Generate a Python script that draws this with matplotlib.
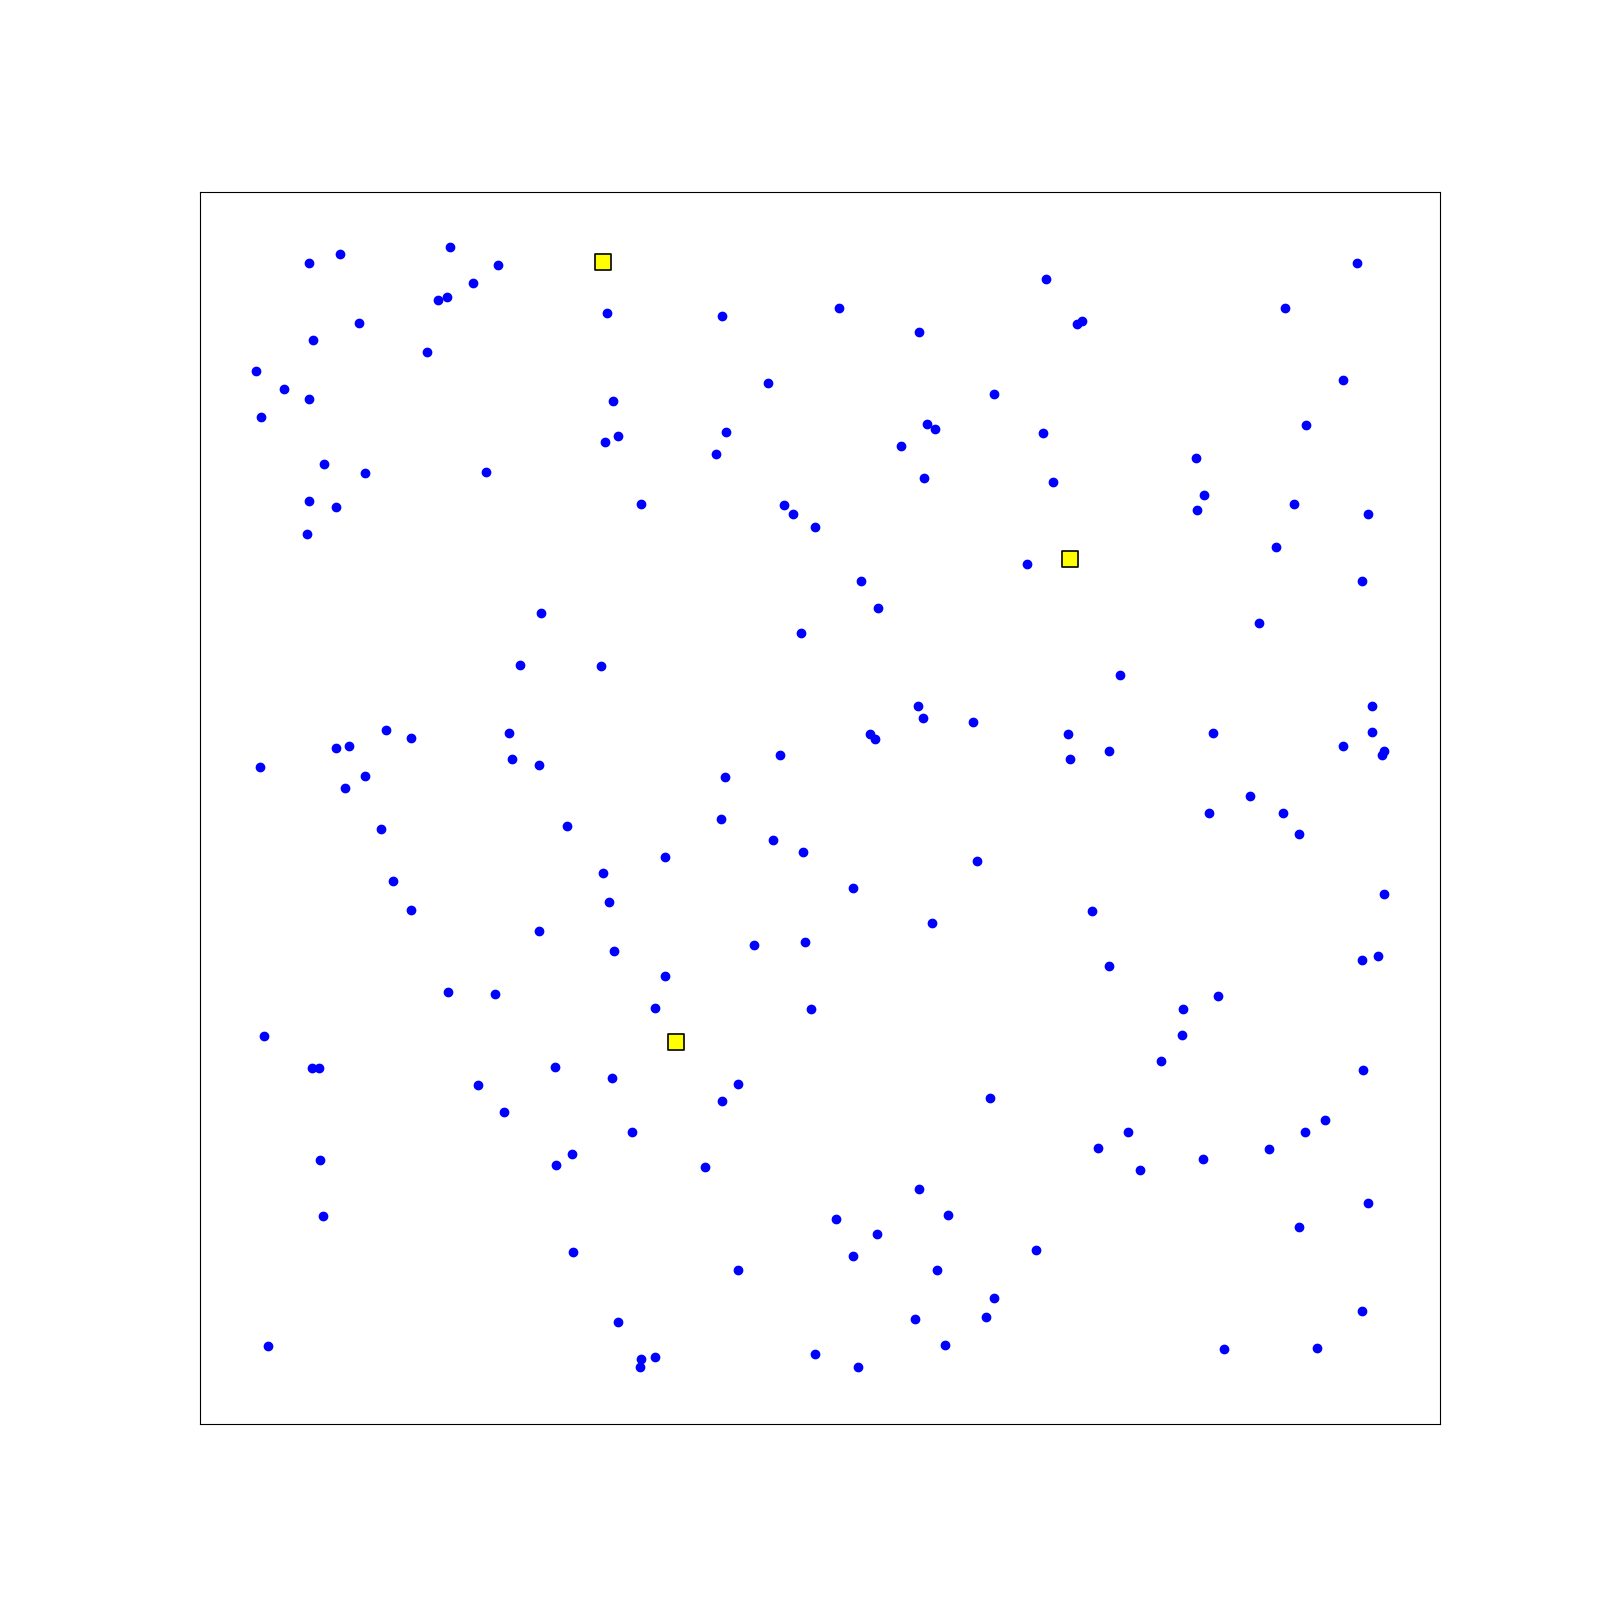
import numpy as np
import matplotlib
matplotlib.use("Agg")
import matplotlib.pyplot as plt

# blue points
pts_x = [8.8, 11.3, 20.2, 24.0, 22.0, 19.9, 19.2, 12.8, 9.1, 18.3,
         4.5, 6.8, 8.8, 4.9, 10.0, 13.3, 23.1, 8.8, 11.0, 8.6,
         32.8, 42.1, 51.5, 58.0, 68.2, 70.7, 71.1, 93.3, 87.5, 92.2,
         45.8, 64.0, 33.3, 33.7, 32.7, 42.4, 41.6, 58.6, 59.3, 56.5,
         68.0, 89.2, 80.3, 58.4, 68.8, 81.0, 80.4, 88.2, 94.2, 35.6,
         47.1, 47.8, 49.6, 86.8, 66.7, 53.3, 93.7, 27.5, 54.7, 85.4,
         48.5, 25.8, 32.3, 74.2, 57.9, 94.5, 58.3, 62.3, 15.0, 17.0,
         24.9, 11.0, 12.0, 54.0, 54.4, 70.0, 81.7, 94.5, 92.2, 73.3,
         95.5, 95.3, 4.8, 25.2, 27.3, 46.8, 70.2, 13.3, 11.7, 42.3,
         84.7, 81.4, 87.3, 42.0, 29.6, 14.6, 88.6, 46.2, 48.6, 37.5,
         62.7, 32.5, 15.6, 52.7, 95.5, 33.0, 17.0, 71.9, 59.0, 27.3,
         44.7, 48.8, 33.4, 95.0, 93.7, 73.3, 37.5, 20.0, 23.8, 82.1,
         36.7, 49.3, 79.3, 5.2, 79.2, 9.0, 9.6, 28.6, 77.5, 93.8,
         33.2, 22.4, 43.4, 42.1, 63.7, 24.5, 90.7, 89.1, 34.8, 74.8,
         72.4, 86.2, 30.0, 9.7, 28.7, 40.7, 80.9, 75.8, 58.0, 94.2,
         60.3, 9.9, 51.3, 88.6, 54.6, 30.1, 67.4, 52.7, 43.4, 59.4,
         64.0, 93.7, 63.4, 57.7, 33.7, 5.5, 60.1, 82.6, 90.1, 49.6,
         35.6, 36.7, 35.5, 53.1]
pts_y = [94.2, 95.0, 95.5, 94.1, 92.6, 91.5, 91.2, 89.4, 88.0, 87.0,
         85.5, 84.0, 83.2, 81.7, 77.9, 77.2, 77.3, 74.9, 74.4, 72.2,
         90.2, 89.9, 90.6, 88.6, 92.9, 89.3, 89.5, 94.2, 90.6, 84.7,
         84.5, 83.6, 83.0, 80.2, 79.7, 80.5, 78.7, 81.2, 80.8, 79.4,
         80.4, 81.1, 78.4, 76.8, 76.5, 75.4, 74.2, 74.7, 73.9, 74.7,
         74.6, 73.9, 72.8, 71.2, 69.8, 68.4, 68.4, 65.8, 66.2, 65.0,
         64.2, 61.6, 61.5, 60.8, 58.3, 58.3, 57.3, 57.0, 56.3, 55.7,
         56.1, 54.9, 55.0, 56.0, 55.6, 56.0, 56.1, 56.2, 55.0, 54.6,
         54.6, 54.3, 53.3, 54.0, 53.5, 54.3, 54.0, 52.6, 51.6, 52.5,
         51.0, 49.6, 49.6, 49.1, 48.5, 48.3, 47.9, 47.4, 46.4, 46.0,
         45.7, 44.7, 44.1, 43.5, 43.0, 42.4, 41.7, 41.6, 40.7, 40.0,
         38.9, 39.1, 38.4, 38.0, 37.7, 37.2, 36.4, 35.1, 34.9, 34.7,
         33.8, 33.7, 33.7, 31.5, 31.6, 28.9, 28.9, 29.0, 29.5, 28.7,
         28.1, 27.5, 27.6, 26.2, 26.5, 25.3, 24.7, 23.7, 23.7, 23.7,
         22.4, 22.3, 21.9, 21.4, 21.0, 20.9, 21.5, 20.6, 19.1, 17.9,
         17.0, 16.9, 16.6, 16.0, 15.4, 14.0, 14.1, 13.6, 12.5, 12.5,
         10.2, 9.2, 8.7, 8.5, 8.3, 6.3, 6.4, 6.1, 6.2, 5.7,
         5.3, 5.4, 4.6, 4.6]

# yellow squares
sq_x = [32.5, 70.2, 38.4]
sq_y = [94.3, 70.2, 31.0]

fig = plt.figure(figsize=(16, 16), dpi=100)
ax = fig.add_subplot(111)

ax.scatter(pts_x, pts_y, c='blue', s=36, zorder=2)
ax.scatter(sq_x, sq_y, c='yellow', marker='s', s=140,
           edgecolors='black', linewidths=1.2, zorder=3)

ax.set_xlim(0, 100)
ax.set_ylim(0, 100)
ax.set_xticks([])
ax.set_yticks([])

plt.savefig('out.png')
